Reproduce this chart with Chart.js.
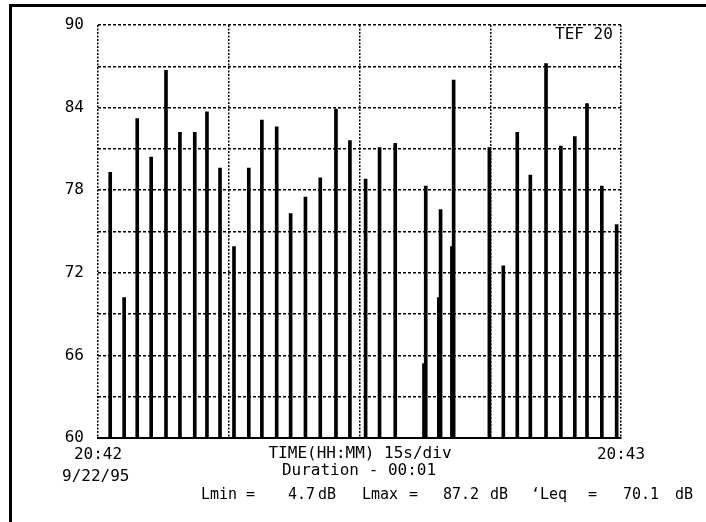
<!DOCTYPE html>
<html>
<head>
<meta charset="utf-8">
<script src="https://cdn.jsdelivr.net/npm/chart.js@4/dist/chart.umd.min.js"></script>
<style>
  html, body { margin: 0; padding: 0; background: #fff; }
  #wrap { position: relative; width: 706px; height: 522px; }
  #frame { position: absolute; left: 9px; top: 4px; right: 0; bottom: 0;
           border-left: 3px solid #000; border-top: 3px solid #000; pointer-events: none; }
</style>
</head>
<body>
<div id="wrap">
  <canvas id="chart" width="706" height="522"></canvas>
  <div id="frame"></div>
</div>
<script>
// ── Data (seconds after 20:42, level in dB) ──
const times = [1.4, 3.0, 4.5, 6.1, 7.8, 9.4, 11.1, 12.5, 14.0, 15.6, 17.3, 18.8,
  20.5, 22.1, 23.8, 25.5, 27.3, 28.9, 30.7, 32.3, 34.1, 37.4, 37.6, 39.1, 39.3,
  40.6, 40.8, 44.9, 46.5, 48.1, 49.6, 51.4, 53.1, 54.7, 56.1, 57.8, 59.5];
const levels = [79.3, 70.2, 83.2, 80.4, 86.7, 82.2, 82.2, 83.7, 79.6, 73.9, 79.6, 83.1,
  82.6, 76.3, 77.5, 78.9, 83.9, 81.6, 78.8, 81.1, 81.4, 65.4, 78.3, 70.2, 76.6,
  73.9, 86.0, 81.1, 72.5, 82.2, 79.1, 87.2, 81.2, 81.9, 84.3, 78.3, 75.5];
const xTickLabels = { 0: '20:42', 60: '20:43' };
const yLabelStep = 6;

const FONT = '"DejaVu Sans Mono", "Liberation Mono", monospace';

// ── Extra plotter text ──
const plotterText = {
  id: 'plotterText',
  afterDraw(chart) {
    const ctx = chart.ctx;
    ctx.save();
    ctx.fillStyle = '#000';
    ctx.font = '16px ' + FONT;
    ctx.textBaseline = 'middle';
    ctx.textAlign = 'center';
    ctx.fillText('TIME(HH:MM) 15s/div', 360, 454);
    ctx.fillText('Duration - 00:01', 359, 471);
    ctx.textAlign = 'left';
    ctx.fillText('9/22/95', 62, 477);
    ctx.fillText('TEF 20', 555, 35);
    ctx.font = '15px ' + FONT;
    const y = 495;
    [['Lmin', 201], ['=', 246], ['4.7', 288], ['dB', 318], ['Lmax', 362], ['=', 409],
     ['87.2', 443], ['dB', 490], ['\u2018Leq', 531], ['=', 588], ['70.1', 623], ['dB', 675]]
      .forEach(([t, x]) => ctx.fillText(t, x, y));
    ctx.restore();
  }
};

new Chart(document.getElementById('chart'), {
  type: 'bar',
  data: {
    datasets: [{
      data: times.map((t, i) => ({ x: t, y: levels[i] })),
      backgroundColor: '#000',
      borderWidth: 0,
      barThickness: 3,
    }]
  },
  options: {
    responsive: false,
    animation: false,
    layout: { padding: { top: 25, right: 85, bottom: 0, left: 0 } },
    plugins: { legend: { display: false }, tooltip: { enabled: false } },
    scales: {
      x: {
        type: 'linear',
        min: 0, max: 60,
        offset: false,
        grid: { color: '#000', lineWidth: 1.5, drawTicks: false, offset: false },
        border: { display: true, color: '#000', width: 2, dash: [2, 1.5] },
        ticks: {
          stepSize: 15, autoSkip: false, maxRotation: 0, padding: 7,
          color: '#000', font: { family: FONT, size: 16 },
          callback: v => xTickLabels[v] || ''
        },
        afterFit: s => { s.height = 84; }
      },
      y: {
        min: 60, max: 90,
        grid: { color: '#000', lineWidth: 1.5, drawTicks: false },
        border: { display: false, dash: [3, 2] },
        ticks: {
          stepSize: 3, padding: 14, color: '#000', font: { family: FONT, size: 16 },
          callback: v => (v % yLabelStep === 0 ? v : '')
        },
        afterFit: s => { s.width = 98; }
      }
    }
  },
  plugins: [plotterText]
});
</script>
</body>
</html>
